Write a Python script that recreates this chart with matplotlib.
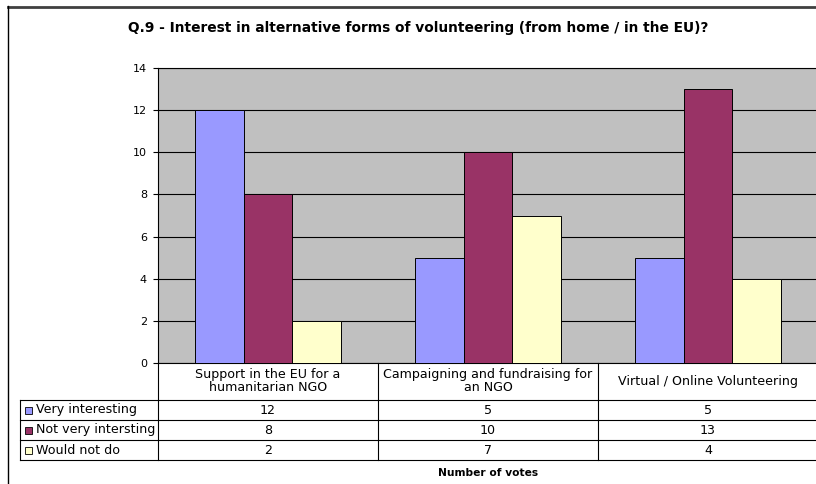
import matplotlib.pyplot as plt
import matplotlib.transforms as mtransforms
from matplotlib.lines import Line2D
from matplotlib.patches import Rectangle

categories = ['Support in the EU for a\nhumanitarian NGO',
              'Campaigning and fundraising for\nan NGO',
              'Virtual / Online Volunteering']
series = ['Very interesting', 'Not very intersting', 'Would not do']
very_interesting = [12, 5, 5]
not_very_interesting = [8, 10, 13]
would_not_do = [2, 7, 4]
values = [very_interesting, not_very_interesting, would_not_do]
colors = ['#9999FF', '#993366', '#FFFFCC']

plt.rcParams['font.family'] = ['DejaVu Sans']

W, H = 816, 484
fig = plt.figure(figsize=(W / 100, H / 100), dpi=100)


def fx(px):
    return px / W


def fy(py):
    return 1 - py / H


ax = fig.add_axes([fx(158), fy(363), fx(818) - fx(158), fy(68) - fy(363)])
ax.set_facecolor('#C0C0C0')

bw = 0.221
for j, (name, vals, c) in enumerate(zip(series, values, colors)):
    xs = [i + (j - 1) * bw for i in range(len(categories))]
    ax.bar(xs, vals, width=bw, color=c, edgecolor='black', linewidth=0.7, zorder=3)

ax.set_xlim(-0.5, len(categories) - 0.5)
ax.set_ylim(0, 14)
ax.set_yticks(range(0, 15, 2))
ax.yaxis.grid(True, color='black', linewidth=0.8, zorder=0)
ax.set_axisbelow(True)
ax.set_xticks([])
ax.tick_params(axis='y', labelsize=8, length=3.6, width=0.8, pad=4.3)
ax.spines['right'].set_visible(False)
for s in ['top', 'left', 'bottom']:
    ax.spines[s].set_linewidth(0.8)

# title and outer frame
fig.text(fx(418), fy(28), 'Q.9 - Interest in alternative forms of volunteering (from home / in the EU)?',
         ha='center', va='center', fontsize=9.9, fontweight='bold')
fig.add_artist(Line2D([fx(8), 1], [fy(6.5), fy(6.5)], color='#404040', linewidth=2))
fig.add_artist(Line2D([fx(8), fx(8)], [fy(6), 0], color='black', linewidth=1))

# data table below the axis
bt = mtransforms.blended_transform_factory(ax.transData, fig.transFigure)
lw = 0.8
fs = 9.1
row_y = [400, 420, 440, 460]
for y in row_y:
    fig.add_artist(Line2D([fx(20), 1], [fy(y), fy(y)], color='black', linewidth=lw))
fig.add_artist(Line2D([fx(20), fx(20)], [fy(400), fy(460)], color='black', linewidth=lw))
for k in range(len(categories)):
    xb = k - 0.5
    ax.add_artist(Line2D([xb, xb], [fy(363), fy(460)], transform=bt, color='black',
                         linewidth=lw, clip_on=False))

for i, cat in enumerate(categories):
    ax.text(i, fy(381), cat, transform=bt, ha='center', va='center', fontsize=fs,
            linespacing=1.0, clip_on=False)

for j, (name, vals, c) in enumerate(zip(series, values, colors)):
    yc = (row_y[j] + row_y[j + 1]) / 2
    fig.add_artist(Rectangle((fx(24.5), fy(yc + 3.5)), fx(7), fy(yc - 3.5) - fy(yc + 3.5),
                             facecolor=c, edgecolor='black', linewidth=0.6))
    fig.text(fx(36), fy(yc), name, ha='left', va='center', fontsize=fs)
    for i, v in enumerate(vals):
        ax.text(i, fy(yc), str(v), transform=bt, ha='center', va='center',
                fontsize=fs, clip_on=False)

ax.text(1, fy(473), 'Number of votes', transform=bt, ha='center', va='center',
        fontsize=7.7, fontweight='bold', clip_on=False)

fig.savefig('out.png', dpi=100)
